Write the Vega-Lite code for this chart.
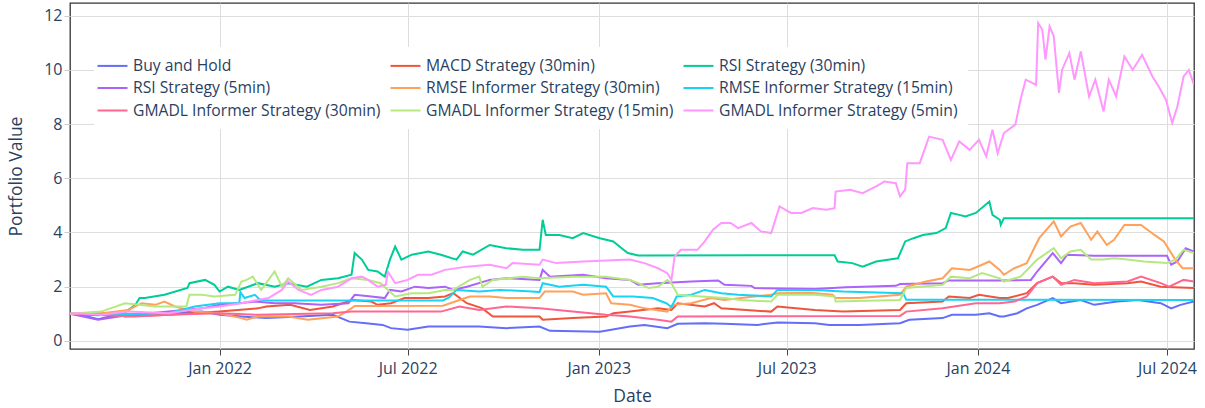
{
"$schema":"https://vega.github.io/schema/vega-lite/v6.json",
"width":1124,"height":346,"autosize":{"type":"none"},
"padding":{"left":70,"top":3,"right":11,"bottom":59},
"background":"white",
"config":{"view":{"stroke":"#333","strokeWidth":1.3},"font":"Open Sans"},
"data":{"values":[
{"s":"Buy and Hold","d":"2021-08-10","v":1.0},{"s":"Buy and Hold","d":"2021-08-25","v":0.92},{"s":"Buy and Hold","d":"2021-09-06","v":0.8},{"s":"Buy and Hold","d":"2021-09-25","v":0.96},{"s":"Buy and Hold","d":"2021-10-20","v":1.0},{"s":"Buy and Hold","d":"2021-11-13","v":1.04},{"s":"Buy and Hold","d":"2021-12-15","v":1.08},{"s":"Buy and Hold","d":"2022-01-01","v":0.96},{"s":"Buy and Hold","d":"2022-01-22","v":0.9},{"s":"Buy and Hold","d":"2022-02-15","v":0.84},{"s":"Buy and Hold","d":"2022-03-19","v":0.9},{"s":"Buy and Hold","d":"2022-04-20","v":0.96},{"s":"Buy and Hold","d":"2022-05-06","v":0.71},{"s":"Buy and Hold","d":"2022-05-22","v":0.65},{"s":"Buy and Hold","d":"2022-06-07","v":0.59},{"s":"Buy and Hold","d":"2022-06-15","v":0.47},{"s":"Buy and Hold","d":"2022-07-01","v":0.41},{"s":"Buy and Hold","d":"2022-07-21","v":0.53},{"s":"Buy and Hold","d":"2022-08-06","v":0.53},{"s":"Buy and Hold","d":"2022-09-08","v":0.53},{"s":"Buy and Hold","d":"2022-10-04","v":0.47},{"s":"Buy and Hold","d":"2022-11-05","v":0.53},{"s":"Buy and Hold","d":"2022-11-15","v":0.37},{"s":"Buy and Hold","d":"2023-01-02","v":0.34},{"s":"Buy and Hold","d":"2023-01-31","v":0.53},{"s":"Buy and Hold","d":"2023-02-14","v":0.59},{"s":"Buy and Hold","d":"2023-03-08","v":0.47},{"s":"Buy and Hold","d":"2023-03-18","v":0.63},{"s":"Buy and Hold","d":"2023-04-13","v":0.65},{"s":"Buy and Hold","d":"2023-05-02","v":0.63},{"s":"Buy and Hold","d":"2023-06-03","v":0.59},{"s":"Buy and Hold","d":"2023-06-22","v":0.68},{"s":"Buy and Hold","d":"2023-07-28","v":0.65},{"s":"Buy and Hold","d":"2023-08-11","v":0.59},{"s":"Buy and Hold","d":"2023-09-09","v":0.59},{"s":"Buy and Hold","d":"2023-10-18","v":0.65},{"s":"Buy and Hold","d":"2023-10-27","v":0.78},{"s":"Buy and Hold","d":"2023-11-28","v":0.84},{"s":"Buy and Hold","d":"2023-12-07","v":0.96},{"s":"Buy and Hold","d":"2023-12-30","v":0.96},{"s":"Buy and Hold","d":"2024-01-12","v":1.02},{"s":"Buy and Hold","d":"2024-01-22","v":0.9},{"s":"Buy and Hold","d":"2024-01-26","v":0.9},{"s":"Buy and Hold","d":"2024-02-08","v":1.02},{"s":"Buy and Hold","d":"2024-02-17","v":1.2},{"s":"Buy and Hold","d":"2024-02-27","v":1.33},{"s":"Buy and Hold","d":"2024-03-13","v":1.58},{"s":"Buy and Hold","d":"2024-03-21","v":1.39},{"s":"Buy and Hold","d":"2024-04-09","v":1.51},{"s":"Buy and Hold","d":"2024-04-22","v":1.33},{"s":"Buy and Hold","d":"2024-05-14","v":1.45},{"s":"Buy and Hold","d":"2024-06-03","v":1.51},{"s":"Buy and Hold","d":"2024-06-25","v":1.39},{"s":"Buy and Hold","d":"2024-07-05","v":1.2},{"s":"Buy and Hold","d":"2024-07-14","v":1.33},{"s":"Buy and Hold","d":"2024-07-27","v":1.45},

{"s":"MACD Strategy (30min)","d":"2021-08-10","v":1.0},{"s":"MACD Strategy (30min)","d":"2021-09-19","v":1.02},{"s":"MACD Strategy (30min)","d":"2021-10-02","v":0.9},{"s":"MACD Strategy (30min)","d":"2021-11-13","v":0.96},{"s":"MACD Strategy (30min)","d":"2022-01-01","v":1.08},{"s":"MACD Strategy (30min)","d":"2022-02-07","v":1.2},{"s":"MACD Strategy (30min)","d":"2022-02-15","v":1.27},{"s":"MACD Strategy (30min)","d":"2022-03-10","v":1.33},{"s":"MACD Strategy (30min)","d":"2022-03-29","v":1.14},{"s":"MACD Strategy (30min)","d":"2022-04-20","v":1.27},{"s":"MACD Strategy (30min)","d":"2022-05-09","v":1.51},{"s":"MACD Strategy (30min)","d":"2022-05-27","v":1.45},{"s":"MACD Strategy (30min)","d":"2022-06-02","v":1.33},{"s":"MACD Strategy (30min)","d":"2022-06-15","v":1.39},{"s":"MACD Strategy (30min)","d":"2022-06-28","v":1.58},{"s":"MACD Strategy (30min)","d":"2022-07-21","v":1.58},{"s":"MACD Strategy (30min)","d":"2022-08-06","v":1.64},{"s":"MACD Strategy (30min)","d":"2022-08-14","v":1.76},{"s":"MACD Strategy (30min)","d":"2022-08-27","v":1.39},{"s":"MACD Strategy (30min)","d":"2022-09-11","v":1.2},{"s":"MACD Strategy (30min)","d":"2022-09-21","v":0.9},{"s":"MACD Strategy (30min)","d":"2022-11-05","v":0.9},{"s":"MACD Strategy (30min)","d":"2022-11-08","v":0.78},{"s":"MACD Strategy (30min)","d":"2022-12-07","v":0.84},{"s":"MACD Strategy (30min)","d":"2023-01-08","v":0.9},{"s":"MACD Strategy (30min)","d":"2023-01-15","v":1.02},{"s":"MACD Strategy (30min)","d":"2023-01-31","v":1.08},{"s":"MACD Strategy (30min)","d":"2023-02-27","v":1.2},{"s":"MACD Strategy (30min)","d":"2023-03-12","v":1.14},{"s":"MACD Strategy (30min)","d":"2023-03-18","v":1.39},{"s":"MACD Strategy (30min)","d":"2023-04-13","v":1.27},{"s":"MACD Strategy (30min)","d":"2023-04-22","v":1.39},{"s":"MACD Strategy (30min)","d":"2023-04-29","v":1.2},{"s":"MACD Strategy (30min)","d":"2023-06-16","v":1.08},{"s":"MACD Strategy (30min)","d":"2023-06-22","v":1.27},{"s":"MACD Strategy (30min)","d":"2023-07-28","v":1.14},{"s":"MACD Strategy (30min)","d":"2023-08-24","v":1.08},{"s":"MACD Strategy (30min)","d":"2023-10-18","v":1.14},{"s":"MACD Strategy (30min)","d":"2023-10-24","v":1.39},{"s":"MACD Strategy (30min)","d":"2023-11-28","v":1.45},{"s":"MACD Strategy (30min)","d":"2023-12-04","v":1.64},{"s":"MACD Strategy (30min)","d":"2023-12-24","v":1.58},{"s":"MACD Strategy (30min)","d":"2024-01-02","v":1.7},{"s":"MACD Strategy (30min)","d":"2024-01-22","v":1.58},{"s":"MACD Strategy (30min)","d":"2024-01-30","v":1.58},{"s":"MACD Strategy (30min)","d":"2024-02-17","v":1.76},{"s":"MACD Strategy (30min)","d":"2024-02-27","v":2.13},{"s":"MACD Strategy (30min)","d":"2024-03-13","v":2.37},{"s":"MACD Strategy (30min)","d":"2024-03-21","v":2.13},{"s":"MACD Strategy (30min)","d":"2024-04-03","v":2.13},{"s":"MACD Strategy (30min)","d":"2024-04-22","v":2.07},{"s":"MACD Strategy (30min)","d":"2024-05-24","v":2.13},{"s":"MACD Strategy (30min)","d":"2024-06-06","v":2.19},{"s":"MACD Strategy (30min)","d":"2024-06-25","v":2.0},{"s":"MACD Strategy (30min)","d":"2024-07-27","v":1.95},

{"s":"RSI Strategy (30min)","d":"2021-08-10","v":1.0},{"s":"RSI Strategy (30min)","d":"2021-09-06","v":0.95},{"s":"RSI Strategy (30min)","d":"2021-10-02","v":1.05},{"s":"RSI Strategy (30min)","d":"2021-10-12","v":1.33},{"s":"RSI Strategy (30min)","d":"2021-10-16","v":1.58},{"s":"RSI Strategy (30min)","d":"2021-10-21","v":1.58},{"s":"RSI Strategy (30min)","d":"2021-11-09","v":1.7},{"s":"RSI Strategy (30min)","d":"2021-12-01","v":1.95},{"s":"RSI Strategy (30min)","d":"2021-12-03","v":2.13},{"s":"RSI Strategy (30min)","d":"2021-12-18","v":2.25},{"s":"RSI Strategy (30min)","d":"2021-12-27","v":2.07},{"s":"RSI Strategy (30min)","d":"2022-01-01","v":1.82},{"s":"RSI Strategy (30min)","d":"2022-01-09","v":2.0},{"s":"RSI Strategy (30min)","d":"2022-01-20","v":1.88},{"s":"RSI Strategy (30min)","d":"2022-02-07","v":2.13},{"s":"RSI Strategy (30min)","d":"2022-02-23","v":2.0},{"s":"RSI Strategy (30min)","d":"2022-03-08","v":2.13},{"s":"RSI Strategy (30min)","d":"2022-03-26","v":2.0},{"s":"RSI Strategy (30min)","d":"2022-04-09","v":2.25},{"s":"RSI Strategy (30min)","d":"2022-04-25","v":2.31},{"s":"RSI Strategy (30min)","d":"2022-05-08","v":2.44},{"s":"RSI Strategy (30min)","d":"2022-05-11","v":3.24},{"s":"RSI Strategy (30min)","d":"2022-05-18","v":3.0},{"s":"RSI Strategy (30min)","d":"2022-05-24","v":2.62},{"s":"RSI Strategy (30min)","d":"2022-06-02","v":2.56},{"s":"RSI Strategy (30min)","d":"2022-06-09","v":2.37},{"s":"RSI Strategy (30min)","d":"2022-06-14","v":3.0},{"s":"RSI Strategy (30min)","d":"2022-06-19","v":3.48},{"s":"RSI Strategy (30min)","d":"2022-06-25","v":3.0},{"s":"RSI Strategy (30min)","d":"2022-07-05","v":3.18},{"s":"RSI Strategy (30min)","d":"2022-07-21","v":3.3},{"s":"RSI Strategy (30min)","d":"2022-08-02","v":3.18},{"s":"RSI Strategy (30min)","d":"2022-08-17","v":3.0},{"s":"RSI Strategy (30min)","d":"2022-08-23","v":3.3},{"s":"RSI Strategy (30min)","d":"2022-09-02","v":3.18},{"s":"RSI Strategy (30min)","d":"2022-09-18","v":3.54},{"s":"RSI Strategy (30min)","d":"2022-10-04","v":3.42},{"s":"RSI Strategy (30min)","d":"2022-10-20","v":3.36},{"s":"RSI Strategy (30min)","d":"2022-11-05","v":3.36},{"s":"RSI Strategy (30min)","d":"2022-11-08","v":4.47},{"s":"RSI Strategy (30min)","d":"2022-11-11","v":3.91},{"s":"RSI Strategy (30min)","d":"2022-11-24","v":3.91},{"s":"RSI Strategy (30min)","d":"2022-12-07","v":3.79},{"s":"RSI Strategy (30min)","d":"2022-12-17","v":3.98},{"s":"RSI Strategy (30min)","d":"2023-01-02","v":3.79},{"s":"RSI Strategy (30min)","d":"2023-01-15","v":3.67},{"s":"RSI Strategy (30min)","d":"2023-01-23","v":3.42},{"s":"RSI Strategy (30min)","d":"2023-01-29","v":3.24},{"s":"RSI Strategy (30min)","d":"2023-02-08","v":3.15},{"s":"RSI Strategy (30min)","d":"2023-08-16","v":3.16},{"s":"RSI Strategy (30min)","d":"2023-08-19","v":2.93},{"s":"RSI Strategy (30min)","d":"2023-09-02","v":2.87},{"s":"RSI Strategy (30min)","d":"2023-09-12","v":2.74},{"s":"RSI Strategy (30min)","d":"2023-09-25","v":2.93},{"s":"RSI Strategy (30min)","d":"2023-10-08","v":3.0},{"s":"RSI Strategy (30min)","d":"2023-10-16","v":3.05},{"s":"RSI Strategy (30min)","d":"2023-10-23","v":3.67},{"s":"RSI Strategy (30min)","d":"2023-10-31","v":3.79},{"s":"RSI Strategy (30min)","d":"2023-11-09","v":3.91},{"s":"RSI Strategy (30min)","d":"2023-11-22","v":3.98},{"s":"RSI Strategy (30min)","d":"2023-12-01","v":4.16},{"s":"RSI Strategy (30min)","d":"2023-12-06","v":4.72},{"s":"RSI Strategy (30min)","d":"2023-12-14","v":4.65},{"s":"RSI Strategy (30min)","d":"2023-12-20","v":4.59},{"s":"RSI Strategy (30min)","d":"2023-12-30","v":4.72},{"s":"RSI Strategy (30min)","d":"2024-01-12","v":5.14},{"s":"RSI Strategy (30min)","d":"2024-01-15","v":4.65},{"s":"RSI Strategy (30min)","d":"2024-01-22","v":4.47},{"s":"RSI Strategy (30min)","d":"2024-01-23","v":4.28},{"s":"RSI Strategy (30min)","d":"2024-01-26","v":4.53},{"s":"RSI Strategy (30min)","d":"2024-07-27","v":4.53},

{"s":"RSI Strategy (5min)","d":"2021-08-10","v":1.0},{"s":"RSI Strategy (5min)","d":"2021-09-06","v":0.78},{"s":"RSI Strategy (5min)","d":"2021-10-05","v":0.95},{"s":"RSI Strategy (5min)","d":"2021-11-13","v":1.08},{"s":"RSI Strategy (5min)","d":"2021-12-15","v":1.2},{"s":"RSI Strategy (5min)","d":"2022-01-01","v":1.33},{"s":"RSI Strategy (5min)","d":"2022-01-22","v":1.4},{"s":"RSI Strategy (5min)","d":"2022-02-04","v":1.45},{"s":"RSI Strategy (5min)","d":"2022-02-23","v":1.39},{"s":"RSI Strategy (5min)","d":"2022-03-14","v":1.39},{"s":"RSI Strategy (5min)","d":"2022-04-09","v":1.33},{"s":"RSI Strategy (5min)","d":"2022-05-05","v":1.39},{"s":"RSI Strategy (5min)","d":"2022-05-11","v":1.7},{"s":"RSI Strategy (5min)","d":"2022-05-27","v":1.64},{"s":"RSI Strategy (5min)","d":"2022-06-09","v":1.58},{"s":"RSI Strategy (5min)","d":"2022-06-14","v":1.88},{"s":"RSI Strategy (5min)","d":"2022-06-25","v":1.82},{"s":"RSI Strategy (5min)","d":"2022-07-08","v":2.0},{"s":"RSI Strategy (5min)","d":"2022-07-21","v":1.95},{"s":"RSI Strategy (5min)","d":"2022-08-06","v":2.0},{"s":"RSI Strategy (5min)","d":"2022-08-14","v":1.88},{"s":"RSI Strategy (5min)","d":"2022-08-27","v":2.0},{"s":"RSI Strategy (5min)","d":"2022-09-18","v":2.25},{"s":"RSI Strategy (5min)","d":"2022-10-04","v":2.31},{"s":"RSI Strategy (5min)","d":"2022-11-05","v":2.25},{"s":"RSI Strategy (5min)","d":"2022-11-08","v":2.62},{"s":"RSI Strategy (5min)","d":"2022-11-15","v":2.37},{"s":"RSI Strategy (5min)","d":"2022-12-17","v":2.44},{"s":"RSI Strategy (5min)","d":"2023-01-08","v":2.31},{"s":"RSI Strategy (5min)","d":"2023-01-31","v":2.25},{"s":"RSI Strategy (5min)","d":"2023-02-08","v":2.07},{"s":"RSI Strategy (5min)","d":"2023-02-27","v":2.13},{"s":"RSI Strategy (5min)","d":"2023-03-31","v":2.19},{"s":"RSI Strategy (5min)","d":"2023-04-26","v":2.23},{"s":"RSI Strategy (5min)","d":"2023-05-02","v":2.07},{"s":"RSI Strategy (5min)","d":"2023-05-28","v":2.03},{"s":"RSI Strategy (5min)","d":"2023-05-31","v":1.95},{"s":"RSI Strategy (5min)","d":"2023-07-28","v":1.91},{"s":"RSI Strategy (5min)","d":"2023-08-27","v":1.98},{"s":"RSI Strategy (5min)","d":"2023-10-14","v":2.03},{"s":"RSI Strategy (5min)","d":"2023-10-18","v":2.1},{"s":"RSI Strategy (5min)","d":"2023-11-28","v":2.13},{"s":"RSI Strategy (5min)","d":"2023-12-04","v":2.23},{"s":"RSI Strategy (5min)","d":"2024-01-22","v":2.23},{"s":"RSI Strategy (5min)","d":"2024-02-21","v":2.25},{"s":"RSI Strategy (5min)","d":"2024-02-27","v":2.56},{"s":"RSI Strategy (5min)","d":"2024-03-13","v":3.24},{"s":"RSI Strategy (5min)","d":"2024-03-21","v":2.87},{"s":"RSI Strategy (5min)","d":"2024-03-27","v":3.18},{"s":"RSI Strategy (5min)","d":"2024-04-22","v":3.14},{"s":"RSI Strategy (5min)","d":"2024-07-01","v":3.14},{"s":"RSI Strategy (5min)","d":"2024-07-05","v":2.81},{"s":"RSI Strategy (5min)","d":"2024-07-11","v":2.93},{"s":"RSI Strategy (5min)","d":"2024-07-19","v":3.42},{"s":"RSI Strategy (5min)","d":"2024-07-27","v":3.3},

{"s":"RMSE Informer Strategy (30min)","d":"2021-08-10","v":1.0},{"s":"RMSE Informer Strategy (30min)","d":"2021-09-10","v":1.02},{"s":"RMSE Informer Strategy (30min)","d":"2021-10-05","v":1.14},{"s":"RMSE Informer Strategy (30min)","d":"2021-10-18","v":1.39},{"s":"RMSE Informer Strategy (30min)","d":"2021-10-31","v":1.33},{"s":"RMSE Informer Strategy (30min)","d":"2021-11-09","v":1.45},{"s":"RMSE Informer Strategy (30min)","d":"2021-11-19","v":1.27},{"s":"RMSE Informer Strategy (30min)","d":"2021-12-08","v":1.08},{"s":"RMSE Informer Strategy (30min)","d":"2021-12-31","v":1.02},{"s":"RMSE Informer Strategy (30min)","d":"2022-01-22","v":0.84},{"s":"RMSE Informer Strategy (30min)","d":"2022-01-27","v":0.78},{"s":"RMSE Informer Strategy (30min)","d":"2022-02-07","v":0.9},{"s":"RMSE Informer Strategy (30min)","d":"2022-03-08","v":0.9},{"s":"RMSE Informer Strategy (30min)","d":"2022-03-27","v":0.78},{"s":"RMSE Informer Strategy (30min)","d":"2022-04-25","v":0.9},{"s":"RMSE Informer Strategy (30min)","d":"2022-05-08","v":1.2},{"s":"RMSE Informer Strategy (30min)","d":"2022-05-11","v":1.29},{"s":"RMSE Informer Strategy (30min)","d":"2022-08-04","v":1.3},{"s":"RMSE Informer Strategy (30min)","d":"2022-08-20","v":1.51},{"s":"RMSE Informer Strategy (30min)","d":"2022-08-30","v":1.64},{"s":"RMSE Informer Strategy (30min)","d":"2022-09-18","v":1.64},{"s":"RMSE Informer Strategy (30min)","d":"2022-10-04","v":1.58},{"s":"RMSE Informer Strategy (30min)","d":"2022-11-05","v":1.58},{"s":"RMSE Informer Strategy (30min)","d":"2022-11-10","v":1.82},{"s":"RMSE Informer Strategy (30min)","d":"2022-12-07","v":1.82},{"s":"RMSE Informer Strategy (30min)","d":"2022-12-17","v":1.7},{"s":"RMSE Informer Strategy (30min)","d":"2023-01-08","v":1.76},{"s":"RMSE Informer Strategy (30min)","d":"2023-01-13","v":1.39},{"s":"RMSE Informer Strategy (30min)","d":"2023-01-31","v":1.33},{"s":"RMSE Informer Strategy (30min)","d":"2023-02-14","v":1.2},{"s":"RMSE Informer Strategy (30min)","d":"2023-03-08","v":1.08},{"s":"RMSE Informer Strategy (30min)","d":"2023-03-13","v":1.33},{"s":"RMSE Informer Strategy (30min)","d":"2023-03-31","v":1.39},{"s":"RMSE Informer Strategy (30min)","d":"2023-04-19","v":1.58},{"s":"RMSE Informer Strategy (30min)","d":"2023-05-02","v":1.51},{"s":"RMSE Informer Strategy (30min)","d":"2023-05-18","v":1.58},{"s":"RMSE Informer Strategy (30min)","d":"2023-06-16","v":1.7},{"s":"RMSE Informer Strategy (30min)","d":"2023-06-22","v":1.76},{"s":"RMSE Informer Strategy (30min)","d":"2023-07-23","v":1.78},{"s":"RMSE Informer Strategy (30min)","d":"2023-08-14","v":1.7},{"s":"RMSE Informer Strategy (30min)","d":"2023-08-17","v":1.58},{"s":"RMSE Informer Strategy (30min)","d":"2023-09-09","v":1.58},{"s":"RMSE Informer Strategy (30min)","d":"2023-10-18","v":1.7},{"s":"RMSE Informer Strategy (30min)","d":"2023-10-24","v":2.0},{"s":"RMSE Informer Strategy (30min)","d":"2023-11-12","v":2.19},{"s":"RMSE Informer Strategy (30min)","d":"2023-11-28","v":2.31},{"s":"RMSE Informer Strategy (30min)","d":"2023-12-07","v":2.68},{"s":"RMSE Informer Strategy (30min)","d":"2023-12-24","v":2.62},{"s":"RMSE Informer Strategy (30min)","d":"2024-01-05","v":2.81},{"s":"RMSE Informer Strategy (30min)","d":"2024-01-12","v":2.93},{"s":"RMSE Informer Strategy (30min)","d":"2024-01-22","v":2.62},{"s":"RMSE Informer Strategy (30min)","d":"2024-01-26","v":2.44},{"s":"RMSE Informer Strategy (30min)","d":"2024-02-05","v":2.68},{"s":"RMSE Informer Strategy (30min)","d":"2024-02-17","v":2.87},{"s":"RMSE Informer Strategy (30min)","d":"2024-02-29","v":3.79},{"s":"RMSE Informer Strategy (30min)","d":"2024-03-14","v":4.41},{"s":"RMSE Informer Strategy (30min)","d":"2024-03-21","v":3.85},{"s":"RMSE Informer Strategy (30min)","d":"2024-03-30","v":4.22},{"s":"RMSE Informer Strategy (30min)","d":"2024-04-09","v":4.35},{"s":"RMSE Informer Strategy (30min)","d":"2024-04-19","v":3.73},{"s":"RMSE Informer Strategy (30min)","d":"2024-04-25","v":4.04},{"s":"RMSE Informer Strategy (30min)","d":"2024-05-04","v":3.54},{"s":"RMSE Informer Strategy (30min)","d":"2024-05-11","v":3.73},{"s":"RMSE Informer Strategy (30min)","d":"2024-05-21","v":4.28},{"s":"RMSE Informer Strategy (30min)","d":"2024-06-06","v":4.28},{"s":"RMSE Informer Strategy (30min)","d":"2024-06-19","v":3.91},{"s":"RMSE Informer Strategy (30min)","d":"2024-06-28","v":3.67},{"s":"RMSE Informer Strategy (30min)","d":"2024-07-05","v":3.24},{"s":"RMSE Informer Strategy (30min)","d":"2024-07-09","v":3.0},{"s":"RMSE Informer Strategy (30min)","d":"2024-07-16","v":2.68},{"s":"RMSE Informer Strategy (30min)","d":"2024-07-27","v":2.68},

{"s":"RMSE Informer Strategy (15min)","d":"2021-08-10","v":1.0},{"s":"RMSE Informer Strategy (15min)","d":"2021-09-15","v":0.97},{"s":"RMSE Informer Strategy (15min)","d":"2021-11-13","v":1.02},{"s":"RMSE Informer Strategy (15min)","d":"2021-12-08","v":1.27},{"s":"RMSE Informer Strategy (15min)","d":"2022-01-01","v":1.39},{"s":"RMSE Informer Strategy (15min)","d":"2022-01-20","v":1.4},{"s":"RMSE Informer Strategy (15min)","d":"2022-01-21","v":1.8},{"s":"RMSE Informer Strategy (15min)","d":"2022-01-25","v":1.58},{"s":"RMSE Informer Strategy (15min)","d":"2022-02-04","v":1.7},{"s":"RMSE Informer Strategy (15min)","d":"2022-02-09","v":1.51},{"s":"RMSE Informer Strategy (15min)","d":"2022-02-18","v":1.49},{"s":"RMSE Informer Strategy (15min)","d":"2022-08-04","v":1.49},{"s":"RMSE Informer Strategy (15min)","d":"2022-08-10","v":1.6},{"s":"RMSE Informer Strategy (15min)","d":"2022-08-17","v":1.88},{"s":"RMSE Informer Strategy (15min)","d":"2022-09-08","v":1.82},{"s":"RMSE Informer Strategy (15min)","d":"2022-09-28","v":1.88},{"s":"RMSE Informer Strategy (15min)","d":"2022-10-29","v":1.82},{"s":"RMSE Informer Strategy (15min)","d":"2022-11-05","v":1.8},{"s":"RMSE Informer Strategy (15min)","d":"2022-11-08","v":2.13},{"s":"RMSE Informer Strategy (15min)","d":"2022-11-24","v":2.0},{"s":"RMSE Informer Strategy (15min)","d":"2022-12-17","v":2.07},{"s":"RMSE Informer Strategy (15min)","d":"2023-01-08","v":2.0},{"s":"RMSE Informer Strategy (15min)","d":"2023-01-15","v":1.64},{"s":"RMSE Informer Strategy (15min)","d":"2023-02-03","v":1.64},{"s":"RMSE Informer Strategy (15min)","d":"2023-02-22","v":1.58},{"s":"RMSE Informer Strategy (15min)","d":"2023-03-07","v":1.39},{"s":"RMSE Informer Strategy (15min)","d":"2023-03-12","v":1.25},{"s":"RMSE Informer Strategy (15min)","d":"2023-03-17","v":1.64},{"s":"RMSE Informer Strategy (15min)","d":"2023-03-31","v":1.7},{"s":"RMSE Informer Strategy (15min)","d":"2023-04-13","v":1.88},{"s":"RMSE Informer Strategy (15min)","d":"2023-04-29","v":1.76},{"s":"RMSE Informer Strategy (15min)","d":"2023-05-15","v":1.7},{"s":"RMSE Informer Strategy (15min)","d":"2023-06-16","v":1.64},{"s":"RMSE Informer Strategy (15min)","d":"2023-06-22","v":1.88},{"s":"RMSE Informer Strategy (15min)","d":"2023-07-28","v":1.88},{"s":"RMSE Informer Strategy (15min)","d":"2023-08-24","v":1.82},{"s":"RMSE Informer Strategy (15min)","d":"2023-10-21","v":1.76},{"s":"RMSE Informer Strategy (15min)","d":"2023-10-24","v":1.52},{"s":"RMSE Informer Strategy (15min)","d":"2024-07-27","v":1.51},

{"s":"GMADL Informer Strategy (30min)","d":"2021-08-10","v":1.0},{"s":"GMADL Informer Strategy (30min)","d":"2021-10-12","v":0.9},{"s":"GMADL Informer Strategy (30min)","d":"2021-11-13","v":0.96},{"s":"GMADL Informer Strategy (30min)","d":"2022-01-01","v":1.02},{"s":"GMADL Informer Strategy (30min)","d":"2022-02-07","v":0.96},{"s":"GMADL Informer Strategy (30min)","d":"2022-04-20","v":1.02},{"s":"GMADL Informer Strategy (30min)","d":"2022-05-08","v":1.08},{"s":"GMADL Informer Strategy (30min)","d":"2022-08-02","v":1.08},{"s":"GMADL Informer Strategy (30min)","d":"2022-08-20","v":1.27},{"s":"GMADL Informer Strategy (30min)","d":"2022-09-08","v":1.14},{"s":"GMADL Informer Strategy (30min)","d":"2022-10-04","v":1.27},{"s":"GMADL Informer Strategy (30min)","d":"2022-11-05","v":1.2},{"s":"GMADL Informer Strategy (30min)","d":"2022-12-07","v":1.08},{"s":"GMADL Informer Strategy (30min)","d":"2023-01-08","v":0.96},{"s":"GMADL Informer Strategy (30min)","d":"2023-01-31","v":0.9},{"s":"GMADL Informer Strategy (30min)","d":"2023-02-27","v":0.78},{"s":"GMADL Informer Strategy (30min)","d":"2023-03-12","v":0.71},{"s":"GMADL Informer Strategy (30min)","d":"2023-03-18","v":0.9},{"s":"GMADL Informer Strategy (30min)","d":"2023-10-18","v":0.92},{"s":"GMADL Informer Strategy (30min)","d":"2023-10-24","v":1.08},{"s":"GMADL Informer Strategy (30min)","d":"2023-11-28","v":1.2},{"s":"GMADL Informer Strategy (30min)","d":"2023-12-30","v":1.39},{"s":"GMADL Informer Strategy (30min)","d":"2024-01-22","v":1.39},{"s":"GMADL Informer Strategy (30min)","d":"2024-02-05","v":1.45},{"s":"GMADL Informer Strategy (30min)","d":"2024-02-17","v":1.64},{"s":"GMADL Informer Strategy (30min)","d":"2024-02-27","v":2.13},{"s":"GMADL Informer Strategy (30min)","d":"2024-03-13","v":2.37},{"s":"GMADL Informer Strategy (30min)","d":"2024-03-21","v":2.07},{"s":"GMADL Informer Strategy (30min)","d":"2024-04-03","v":2.25},{"s":"GMADL Informer Strategy (30min)","d":"2024-04-22","v":2.13},{"s":"GMADL Informer Strategy (30min)","d":"2024-05-24","v":2.19},{"s":"GMADL Informer Strategy (30min)","d":"2024-06-06","v":2.37},{"s":"GMADL Informer Strategy (30min)","d":"2024-06-25","v":2.13},{"s":"GMADL Informer Strategy (30min)","d":"2024-07-03","v":2.0},{"s":"GMADL Informer Strategy (30min)","d":"2024-07-17","v":2.25},{"s":"GMADL Informer Strategy (30min)","d":"2024-07-27","v":2.19},

{"s":"GMADL Informer Strategy (15min)","d":"2021-08-10","v":1.0},{"s":"GMADL Informer Strategy (15min)","d":"2021-09-09","v":1.08},{"s":"GMADL Informer Strategy (15min)","d":"2021-10-02","v":1.39},{"s":"GMADL Informer Strategy (15min)","d":"2021-10-31","v":1.27},{"s":"GMADL Informer Strategy (15min)","d":"2021-11-30","v":1.27},{"s":"GMADL Informer Strategy (15min)","d":"2021-12-03","v":1.7},{"s":"GMADL Informer Strategy (15min)","d":"2021-12-15","v":1.7},{"s":"GMADL Informer Strategy (15min)","d":"2021-12-27","v":1.64},{"s":"GMADL Informer Strategy (15min)","d":"2022-01-16","v":1.7},{"s":"GMADL Informer Strategy (15min)","d":"2022-01-22","v":2.19},{"s":"GMADL Informer Strategy (15min)","d":"2022-01-27","v":2.25},{"s":"GMADL Informer Strategy (15min)","d":"2022-02-02","v":2.37},{"s":"GMADL Informer Strategy (15min)","d":"2022-02-10","v":1.88},{"s":"GMADL Informer Strategy (15min)","d":"2022-02-23","v":2.56},{"s":"GMADL Informer Strategy (15min)","d":"2022-03-02","v":2.0},{"s":"GMADL Informer Strategy (15min)","d":"2022-03-08","v":2.31},{"s":"GMADL Informer Strategy (15min)","d":"2022-03-21","v":1.88},{"s":"GMADL Informer Strategy (15min)","d":"2022-04-09","v":2.0},{"s":"GMADL Informer Strategy (15min)","d":"2022-04-25","v":2.13},{"s":"GMADL Informer Strategy (15min)","d":"2022-05-08","v":2.31},{"s":"GMADL Informer Strategy (15min)","d":"2022-05-24","v":2.25},{"s":"GMADL Informer Strategy (15min)","d":"2022-06-05","v":2.13},{"s":"GMADL Informer Strategy (15min)","d":"2022-06-19","v":1.64},{"s":"GMADL Informer Strategy (15min)","d":"2022-07-05","v":1.76},{"s":"GMADL Informer Strategy (15min)","d":"2022-07-21","v":1.76},{"s":"GMADL Informer Strategy (15min)","d":"2022-08-06","v":1.88},{"s":"GMADL Informer Strategy (15min)","d":"2022-08-14","v":1.88},{"s":"GMADL Informer Strategy (15min)","d":"2022-08-30","v":2.25},{"s":"GMADL Informer Strategy (15min)","d":"2022-09-08","v":2.37},{"s":"GMADL Informer Strategy (15min)","d":"2022-09-11","v":2.0},{"s":"GMADL Informer Strategy (15min)","d":"2022-09-21","v":2.25},{"s":"GMADL Informer Strategy (15min)","d":"2022-10-20","v":2.37},{"s":"GMADL Informer Strategy (15min)","d":"2022-11-05","v":2.31},{"s":"GMADL Informer Strategy (15min)","d":"2022-12-07","v":2.37},{"s":"GMADL Informer Strategy (15min)","d":"2023-01-08","v":2.37},{"s":"GMADL Informer Strategy (15min)","d":"2023-01-31","v":2.25},{"s":"GMADL Informer Strategy (15min)","d":"2023-02-08","v":2.13},{"s":"GMADL Informer Strategy (15min)","d":"2023-02-18","v":1.95},{"s":"GMADL Informer Strategy (15min)","d":"2023-02-27","v":2.0},{"s":"GMADL Informer Strategy (15min)","d":"2023-03-08","v":2.25},{"s":"GMADL Informer Strategy (15min)","d":"2023-03-12","v":2.13},{"s":"GMADL Informer Strategy (15min)","d":"2023-03-18","v":1.7},{"s":"GMADL Informer Strategy (15min)","d":"2023-04-10","v":1.64},{"s":"GMADL Informer Strategy (15min)","d":"2023-05-02","v":1.58},{"s":"GMADL Informer Strategy (15min)","d":"2023-05-18","v":1.51},{"s":"GMADL Informer Strategy (15min)","d":"2023-06-16","v":1.45},{"s":"GMADL Informer Strategy (15min)","d":"2023-06-22","v":1.7},{"s":"GMADL Informer Strategy (15min)","d":"2023-07-28","v":1.7},{"s":"GMADL Informer Strategy (15min)","d":"2023-08-16","v":1.64},{"s":"GMADL Informer Strategy (15min)","d":"2023-08-17","v":1.45},{"s":"GMADL Informer Strategy (15min)","d":"2023-10-18","v":1.51},{"s":"GMADL Informer Strategy (15min)","d":"2023-10-24","v":1.95},{"s":"GMADL Informer Strategy (15min)","d":"2023-11-28","v":2.07},{"s":"GMADL Informer Strategy (15min)","d":"2023-12-06","v":2.37},{"s":"GMADL Informer Strategy (15min)","d":"2023-12-24","v":2.31},{"s":"GMADL Informer Strategy (15min)","d":"2024-01-05","v":2.5},{"s":"GMADL Informer Strategy (15min)","d":"2024-01-22","v":2.31},{"s":"GMADL Informer Strategy (15min)","d":"2024-01-26","v":2.19},{"s":"GMADL Informer Strategy (15min)","d":"2024-02-11","v":2.37},{"s":"GMADL Informer Strategy (15min)","d":"2024-02-27","v":3.0},{"s":"GMADL Informer Strategy (15min)","d":"2024-03-14","v":3.42},{"s":"GMADL Informer Strategy (15min)","d":"2024-03-21","v":3.05},{"s":"GMADL Informer Strategy (15min)","d":"2024-03-30","v":3.3},{"s":"GMADL Informer Strategy (15min)","d":"2024-04-09","v":3.36},{"s":"GMADL Informer Strategy (15min)","d":"2024-04-19","v":3.0},{"s":"GMADL Informer Strategy (15min)","d":"2024-05-01","v":3.0},{"s":"GMADL Informer Strategy (15min)","d":"2024-05-11","v":3.05},{"s":"GMADL Informer Strategy (15min)","d":"2024-05-24","v":3.0},{"s":"GMADL Informer Strategy (15min)","d":"2024-06-09","v":2.93},{"s":"GMADL Informer Strategy (15min)","d":"2024-07-01","v":2.87},{"s":"GMADL Informer Strategy (15min)","d":"2024-07-09","v":3.0},{"s":"GMADL Informer Strategy (15min)","d":"2024-07-17","v":3.36},{"s":"GMADL Informer Strategy (15min)","d":"2024-07-27","v":3.24},

{"s":"GMADL Informer Strategy (5min)","d":"2021-08-10","v":1.0},{"s":"GMADL Informer Strategy (5min)","d":"2021-08-17","v":1.02},{"s":"GMADL Informer Strategy (5min)","d":"2021-09-09","v":0.96},{"s":"GMADL Informer Strategy (5min)","d":"2021-10-05","v":1.08},{"s":"GMADL Informer Strategy (5min)","d":"2021-11-13","v":1.02},{"s":"GMADL Informer Strategy (5min)","d":"2021-12-15","v":1.2},{"s":"GMADL Informer Strategy (5min)","d":"2022-01-01","v":1.27},{"s":"GMADL Informer Strategy (5min)","d":"2022-01-22","v":1.39},{"s":"GMADL Informer Strategy (5min)","d":"2022-02-07","v":1.51},{"s":"GMADL Informer Strategy (5min)","d":"2022-02-17","v":1.58},{"s":"GMADL Informer Strategy (5min)","d":"2022-03-02","v":1.88},{"s":"GMADL Informer Strategy (5min)","d":"2022-03-08","v":2.19},{"s":"GMADL Informer Strategy (5min)","d":"2022-03-18","v":1.88},{"s":"GMADL Informer Strategy (5min)","d":"2022-03-30","v":1.7},{"s":"GMADL Informer Strategy (5min)","d":"2022-04-09","v":1.88},{"s":"GMADL Informer Strategy (5min)","d":"2022-04-25","v":2.0},{"s":"GMADL Informer Strategy (5min)","d":"2022-05-08","v":2.31},{"s":"GMADL Informer Strategy (5min)","d":"2022-05-18","v":2.37},{"s":"GMADL Informer Strategy (5min)","d":"2022-05-24","v":2.25},{"s":"GMADL Informer Strategy (5min)","d":"2022-06-02","v":2.0},{"s":"GMADL Informer Strategy (5min)","d":"2022-06-10","v":2.07},{"s":"GMADL Informer Strategy (5min)","d":"2022-06-12","v":2.56},{"s":"GMADL Informer Strategy (5min)","d":"2022-06-19","v":2.13},{"s":"GMADL Informer Strategy (5min)","d":"2022-07-01","v":2.25},{"s":"GMADL Informer Strategy (5min)","d":"2022-07-11","v":2.44},{"s":"GMADL Informer Strategy (5min)","d":"2022-07-24","v":2.44},{"s":"GMADL Informer Strategy (5min)","d":"2022-08-06","v":2.62},{"s":"GMADL Informer Strategy (5min)","d":"2022-08-27","v":2.74},{"s":"GMADL Informer Strategy (5min)","d":"2022-09-18","v":2.81},{"s":"GMADL Informer Strategy (5min)","d":"2022-10-04","v":2.68},{"s":"GMADL Informer Strategy (5min)","d":"2022-10-10","v":2.87},{"s":"GMADL Informer Strategy (5min)","d":"2022-11-05","v":2.81},{"s":"GMADL Informer Strategy (5min)","d":"2022-11-08","v":3.0},{"s":"GMADL Informer Strategy (5min)","d":"2022-11-21","v":2.87},{"s":"GMADL Informer Strategy (5min)","d":"2022-12-17","v":2.93},{"s":"GMADL Informer Strategy (5min)","d":"2023-01-31","v":3.0},{"s":"GMADL Informer Strategy (5min)","d":"2023-02-14","v":2.87},{"s":"GMADL Informer Strategy (5min)","d":"2023-02-27","v":2.68},{"s":"GMADL Informer Strategy (5min)","d":"2023-03-08","v":2.5},{"s":"GMADL Informer Strategy (5min)","d":"2023-03-12","v":2.25},{"s":"GMADL Informer Strategy (5min)","d":"2023-03-15","v":3.11},{"s":"GMADL Informer Strategy (5min)","d":"2023-03-21","v":3.36},{"s":"GMADL Informer Strategy (5min)","d":"2023-04-06","v":3.36},{"s":"GMADL Informer Strategy (5min)","d":"2023-04-13","v":3.67},{"s":"GMADL Informer Strategy (5min)","d":"2023-04-21","v":4.1},{"s":"GMADL Informer Strategy (5min)","d":"2023-04-29","v":4.35},{"s":"GMADL Informer Strategy (5min)","d":"2023-05-08","v":4.35},{"s":"GMADL Informer Strategy (5min)","d":"2023-05-15","v":4.16},{"s":"GMADL Informer Strategy (5min)","d":"2023-05-28","v":4.35},{"s":"GMADL Informer Strategy (5min)","d":"2023-06-06","v":4.04},{"s":"GMADL Informer Strategy (5min)","d":"2023-06-16","v":3.98},{"s":"GMADL Informer Strategy (5min)","d":"2023-06-24","v":4.96},{"s":"GMADL Informer Strategy (5min)","d":"2023-07-05","v":4.72},{"s":"GMADL Informer Strategy (5min)","d":"2023-07-15","v":4.72},{"s":"GMADL Informer Strategy (5min)","d":"2023-07-26","v":4.9},{"s":"GMADL Informer Strategy (5min)","d":"2023-08-08","v":4.84},{"s":"GMADL Informer Strategy (5min)","d":"2023-08-16","v":4.9},{"s":"GMADL Informer Strategy (5min)","d":"2023-08-17","v":5.51},{"s":"GMADL Informer Strategy (5min)","d":"2023-08-31","v":5.58},{"s":"GMADL Informer Strategy (5min)","d":"2023-09-12","v":5.45},{"s":"GMADL Informer Strategy (5min)","d":"2023-09-25","v":5.7},{"s":"GMADL Informer Strategy (5min)","d":"2023-10-03","v":5.88},{"s":"GMADL Informer Strategy (5min)","d":"2023-10-14","v":5.82},{"s":"GMADL Informer Strategy (5min)","d":"2023-10-18","v":5.33},{"s":"GMADL Informer Strategy (5min)","d":"2023-10-23","v":5.58},{"s":"GMADL Informer Strategy (5min)","d":"2023-10-25","v":6.56},{"s":"GMADL Informer Strategy (5min)","d":"2023-11-06","v":6.56},{"s":"GMADL Informer Strategy (5min)","d":"2023-11-15","v":7.54},{"s":"GMADL Informer Strategy (5min)","d":"2023-11-28","v":7.42},{"s":"GMADL Informer Strategy (5min)","d":"2023-12-06","v":6.68},{"s":"GMADL Informer Strategy (5min)","d":"2023-12-14","v":7.36},{"s":"GMADL Informer Strategy (5min)","d":"2023-12-24","v":7.05},{"s":"GMADL Informer Strategy (5min)","d":"2024-01-02","v":7.42},{"s":"GMADL Informer Strategy (5min)","d":"2024-01-09","v":6.81},{"s":"GMADL Informer Strategy (5min)","d":"2024-01-15","v":7.79},{"s":"GMADL Informer Strategy (5min)","d":"2024-01-20","v":6.93},{"s":"GMADL Informer Strategy (5min)","d":"2024-01-26","v":7.67},{"s":"GMADL Informer Strategy (5min)","d":"2024-02-06","v":7.98},{"s":"GMADL Informer Strategy (5min)","d":"2024-02-11","v":8.9},{"s":"GMADL Informer Strategy (5min)","d":"2024-02-16","v":9.64},{"s":"GMADL Informer Strategy (5min)","d":"2024-02-26","v":9.45},{"s":"GMADL Informer Strategy (5min)","d":"2024-02-28","v":11.73},{"s":"GMADL Informer Strategy (5min)","d":"2024-03-03","v":11.48},{"s":"GMADL Informer Strategy (5min)","d":"2024-03-06","v":10.38},{"s":"GMADL Informer Strategy (5min)","d":"2024-03-10","v":11.61},{"s":"GMADL Informer Strategy (5min)","d":"2024-03-14","v":11.24},{"s":"GMADL Informer Strategy (5min)","d":"2024-03-19","v":9.15},{"s":"GMADL Informer Strategy (5min)","d":"2024-03-22","v":10.0},{"s":"GMADL Informer Strategy (5min)","d":"2024-03-29","v":10.62},{"s":"GMADL Informer Strategy (5min)","d":"2024-04-03","v":9.64},{"s":"GMADL Informer Strategy (5min)","d":"2024-04-09","v":10.68},{"s":"GMADL Informer Strategy (5min)","d":"2024-04-17","v":9.02},{"s":"GMADL Informer Strategy (5min)","d":"2024-04-23","v":9.64},{"s":"GMADL Informer Strategy (5min)","d":"2024-05-01","v":8.47},{"s":"GMADL Informer Strategy (5min)","d":"2024-05-06","v":9.64},{"s":"GMADL Informer Strategy (5min)","d":"2024-05-13","v":9.02},{"s":"GMADL Informer Strategy (5min)","d":"2024-05-21","v":10.5},{"s":"GMADL Informer Strategy (5min)","d":"2024-05-29","v":10.0},{"s":"GMADL Informer Strategy (5min)","d":"2024-06-07","v":10.56},{"s":"GMADL Informer Strategy (5min)","d":"2024-06-17","v":9.76},{"s":"GMADL Informer Strategy (5min)","d":"2024-06-23","v":9.39},{"s":"GMADL Informer Strategy (5min)","d":"2024-06-30","v":8.9},{"s":"GMADL Informer Strategy (5min)","d":"2024-07-06","v":8.04},{"s":"GMADL Informer Strategy (5min)","d":"2024-07-11","v":8.65},{"s":"GMADL Informer Strategy (5min)","d":"2024-07-17","v":9.76},{"s":"GMADL Informer Strategy (5min)","d":"2024-07-22","v":10.0},{"s":"GMADL Informer Strategy (5min)","d":"2024-07-27","v":9.45}
]},
"mark":{"type":"line","strokeWidth":2,"clip":true},
"encoding":{
"x":{"field":"d","type":"temporal","title":"Date",
 "scale":{"type":"utc","nice":false,"domain":[{"year":2021,"month":8,"date":10,"utc":true},{"year":2024,"month":7,"date":27,"utc":true}]},
 "axis":{"values":[{"year":2022,"month":1,"date":1,"utc":true},{"year":2022,"month":7,"date":1,"utc":true},{"year":2023,"month":1,"date":1,"utc":true},{"year":2023,"month":7,"date":1,"utc":true},{"year":2024,"month":1,"date":1,"utc":true},{"year":2024,"month":7,"date":1,"utc":true}],
  "format":"%b %Y","domain":false,"grid":true,"gridColor":"#dddddd","tickSize":6,"tickColor":"#444","labelPadding":5,
  "labelFont":"Open Sans","labelFontSize":16,"labelColor":"#2a3f5f","titleFont":"Open Sans","titleFontSize":17.5,"titleFontWeight":"normal","titleColor":"#2a3f5f","titlePadding":11}},
"y":{"field":"v","type":"quantitative","title":"Portfolio Value",
 "scale":{"domain":[-0.3,12.47],"nice":false,"zero":false},
 "axis":{"values":[0,2,4,6,8,10,12],"domain":false,"grid":true,"gridColor":"#dddddd","tickSize":6,"tickColor":"#cccccc","labelPadding":2,
  "labelFont":"Open Sans","labelFontSize":16,"labelColor":"#2a3f5f","titleFont":"Open Sans","titleFontSize":17.5,"titleFontWeight":"normal","titleColor":"#2a3f5f","titlePadding":18}},
"color":{"field":"s","type":"nominal",
 "scale":{"domain":["Buy and Hold","RSI Strategy (5min)","GMADL Informer Strategy (30min)","MACD Strategy (30min)","RMSE Informer Strategy (30min)","GMADL Informer Strategy (15min)","RSI Strategy (30min)","RMSE Informer Strategy (15min)","GMADL Informer Strategy (5min)"],
  "range":["#636efa","#ab63fa","#FF6692","#EF553B","#FFA15A","#B6E880","#00cc96","#19d3f3","#FF97FF"]},
 "legend":{"title":null,"orient":"none","legendX":24,"legendY":44,"columns":3,"fillColor":"white","padding":10,
  "symbolType":"M-2,0H2","symbolSize":225,"symbolStrokeWidth":2,"labelFont":"Open Sans","labelFontSize":15.7,"labelColor":"#2a3f5f","labelOffset":12,"labelLimit":500,"columnPadding":5,"rowPadding":5.5}}
}
}
